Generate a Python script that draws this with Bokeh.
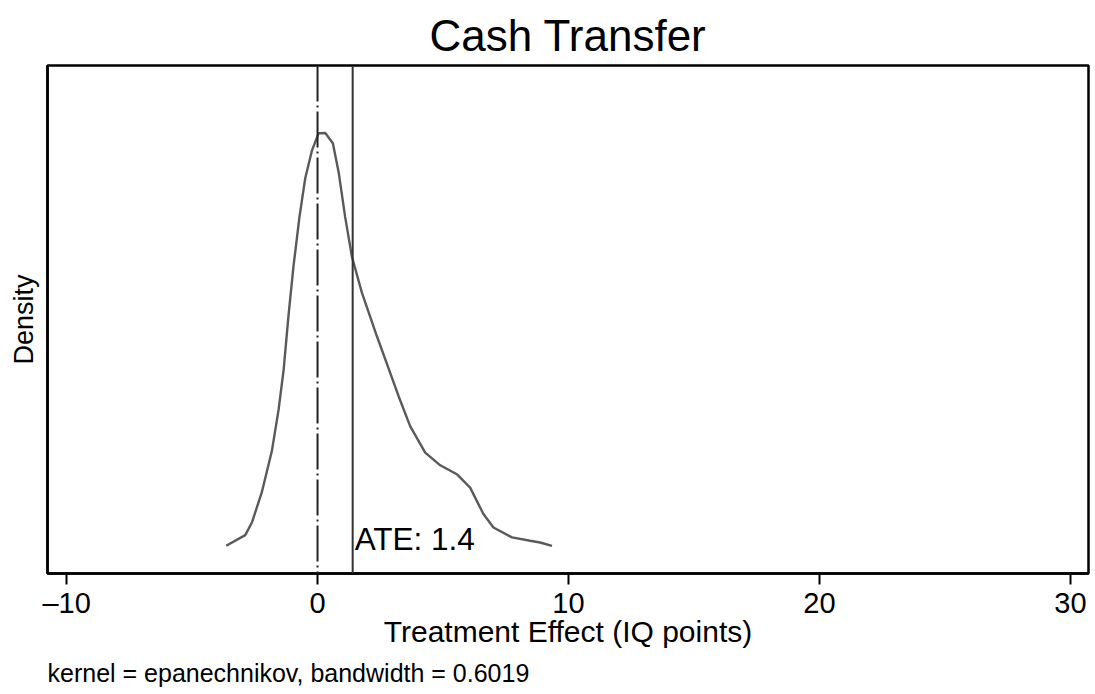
from bokeh.plotting import figure
from bokeh.models import Span, Label, Title, FixedTicker
from bokeh.embed import file_html
from bokeh.resources import INLINE

# ---- data ----
x_vals = [-3.64, -2.88, -2.61, -2.22, -1.82, -1.55, -1.35, -1.16, -0.96, -0.72,
          -0.49, -0.22, 0.04, 0.31, 0.61, 0.84, 1.10, 1.37, 1.77, 2.37,
          3.23, 3.69, 4.29, 4.89, 5.55, 6.08, 6.61, 7.01, 7.75, 8.47,
          8.87, 9.34]
density = [0.0109, 0.0151, 0.0202, 0.0320, 0.0482, 0.0646, 0.0803, 0.1012, 0.1208, 0.1404,
           0.1556, 0.1666, 0.1733, 0.1734, 0.1694, 0.1581, 0.1404, 0.1247, 0.1105, 0.0933,
           0.0698, 0.0580, 0.0476, 0.0426, 0.0391, 0.0338, 0.0234, 0.0181, 0.0142, 0.0129,
           0.0122, 0.0109]
zero_effect = 0.0
ate = 1.4
ate_label_y = 0.0135
x_ticks = [-10, 0, 10, 20, 30]
x_tick_labels = {-10: "\u201310", 0: "0", 10: "10", 20: "20", 30: "30"}
title_text = "Cash Transfer"
x_label = "Treatment Effect (IQ points)"
y_label = "Density"
note_text = "kernel = epanechnikov, bandwidth = 0.6019"

FONT = "Liberation Sans"

p = figure(width=1095, height=694, x_range=(-10.76, 30.72), y_range=(0, 0.2),
           output_backend="svg", toolbar_location=None,
           min_border_left=47, min_border_right=7, min_border_top=65,
           min_border_bottom=121)

p.title.text = title_text
p.title.align = "center"
p.title.text_font = FONT
p.title.text_font_size = "44px"
p.title.text_font_style = "normal"
p.title.text_color = "black"
p.title.standoff = 11

p.grid.visible = False
p.outline_line_color = "black"
p.outline_line_width = 2.5
p.background_fill_color = "white"
p.border_fill_color = "white"

# x axis
xa = p.xaxis[0]
xa.ticker = FixedTicker(ticks=x_ticks)
xa.major_label_overrides = x_tick_labels
xa.major_label_text_font = FONT
xa.major_label_text_font_size = "29px"
xa.major_label_text_color = "black"
xa.major_tick_in = 0
xa.major_tick_out = 11
xa.major_tick_line_width = 2
xa.major_tick_line_color = "black"
xa.minor_tick_line_color = None
xa.axis_line_color = "black"
xa.axis_line_width = 2.5
xa.major_label_standoff = 2
xa.axis_label = x_label
xa.axis_label_text_font = FONT
xa.axis_label_text_font_size = "30px"
xa.axis_label_text_font_style = "normal"
xa.axis_label_text_color = "black"
xa.axis_label_standoff = -7

# y axis
ya = p.yaxis[0]
ya.ticker = FixedTicker(ticks=[])
ya.major_tick_line_color = None
ya.minor_tick_line_color = None
ya.major_label_text_font_size = "0px"
ya.axis_line_color = "black"
ya.axis_line_width = 2.5
ya.axis_label = y_label
ya.axis_label_text_font = FONT
ya.axis_label_text_font_size = "27px"
ya.axis_label_text_font_style = "normal"
ya.axis_label_text_color = "black"
ya.axis_label_standoff = 9

# density curve
p.line(x_vals, density, line_color="#5a5a5a", line_width=2.4)

# reference lines
p.add_layout(Span(location=zero_effect, dimension="height", line_color="#222222",
                  line_width=2, line_dash="36 4 2 4"))
p.add_layout(Span(location=ate, dimension="height", line_color="#333333",
                  line_width=2))
p.add_layout(Label(x=ate, y=ate_label_y, text="ATE: %.1f" % ate, x_offset=2,
                   text_font=FONT, text_font_size="31.5px", text_color="black",
                   text_baseline="alphabetic"))

note = Title(text=note_text, align="left", text_font=FONT, text_font_size="25px",
             text_font_style="normal", text_color="black", standoff=13)
p.add_layout(note, "below")

open("out.html", "w").write(file_html(p, INLINE))
